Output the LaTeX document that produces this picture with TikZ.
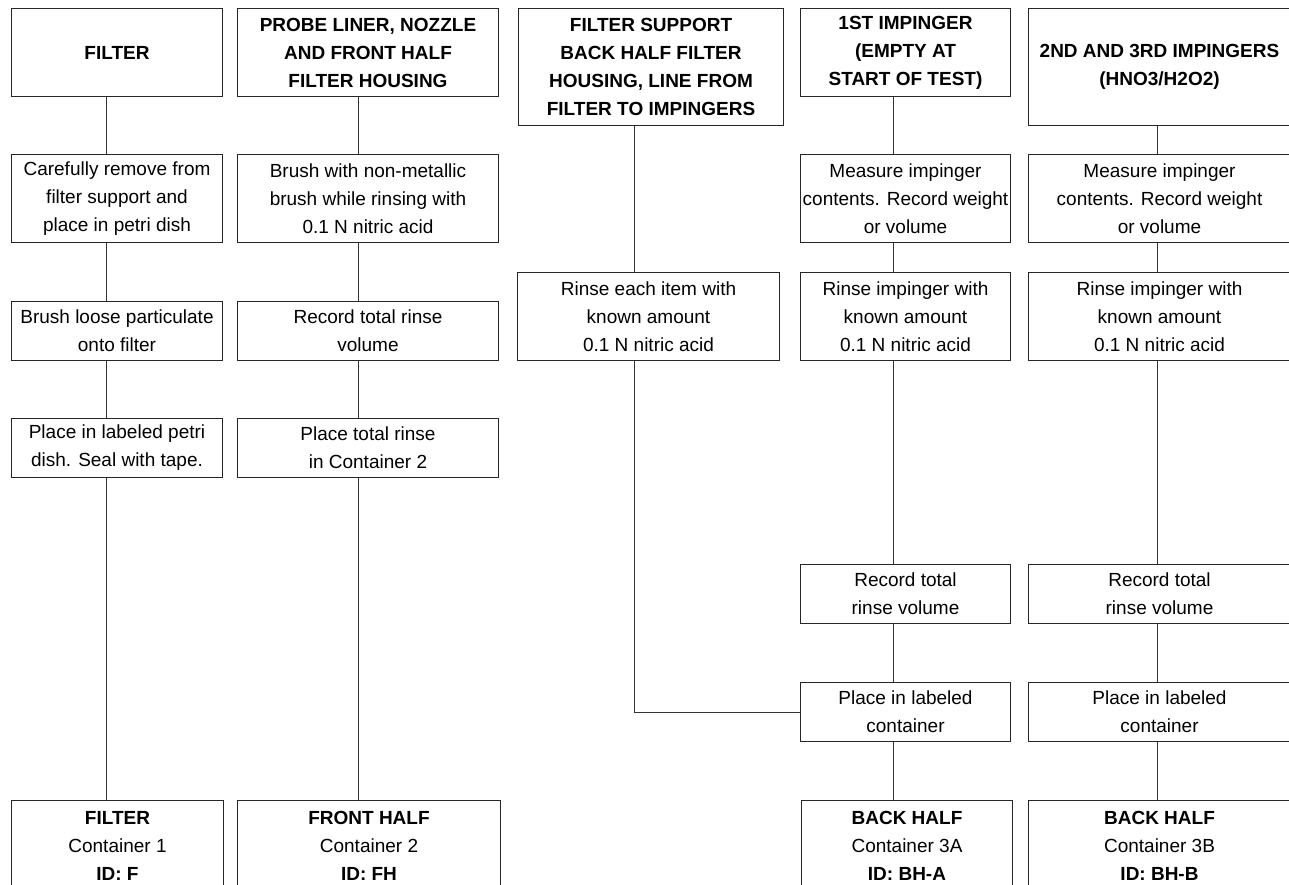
\documentclass[tikz,border=0pt]{standalone}
\usepackage{fontspec}
\setmainfont{Liberation Sans}

\begin{document}
\begin{tikzpicture}[x=1pt,y=-1pt,
    box/.style={draw=black!85, line width=1pt, inner sep=0pt, anchor=north west,
                align=center, font=\fontsize{19}{28}\selectfont},
    head/.style={box, font=\fontsize{19}{28}\selectfont\bfseries},
    narrow/.style={minimum width=211pt},
    wide/.style={minimum width=262pt},
    two/.style={minimum height=59pt},
    three/.style={minimum height=88pt},
    four/.style={minimum height=117pt},
    link/.style={draw=black!80, line width=1pt}]
\path[use as bounding box] (0,0) rectangle (1289,885);

% column lines
\coordinate (x_1) at (106,0);
\coordinate (x_2) at (358,0);
\coordinate (x_3) at (634,0);
\coordinate (x_4) at (893,0);
\coordinate (x_5) at (1157,0);

% sample fractions
\node[head, narrow, three] (h_1) at (11,8) {FILTER};
\node[head, minimum width=261pt, three] (h_2) at (237,8) {PROBE LINER, NOZZLE\\AND FRONT HALF\\FILTER HOUSING};
\node[head, minimum width=265pt, four] (h_3) at (518,8) {FILTER SUPPORT\\BACK HALF FILTER\\HOUSING, LINE FROM\\FILTER TO IMPINGERS};
\node[head, minimum width=210pt, three] (h_4) at (800,8) {1ST IMPINGER\\(EMPTY AT\\START OF TEST)};
\node[head, wide, four] (h_5) at (1028,8) {2ND AND 3RD IMPINGERS\\(HNO3/H2O2)};

% recovery steps
\node[box, narrow, three] (s_11) at (11,154) {Carefully remove from\\filter support and\\place in petri dish};
\node[box, minimum width=261pt, three] (s_21) at (237,154) {Brush with non-metallic\\brush while rinsing with\\0.1 N nitric acid};
\node[box, minimum width=210pt, three] (s_41) at (800,154) {Measure impinger\\contents. Record weight\\or volume};
\node[box, wide, three] (s_51) at (1028,154) {Measure impinger\\contents. Record weight\\or volume};

\node[box, narrow, two] (s_12) at (11,301) {Brush loose particulate\\onto filter};
\node[box, minimum width=261pt, two] (s_22) at (237,301) {Record total rinse\\volume};
\node[box, wide, three] (s_32) at (517,272) {Rinse each item with\\known amount\\0.1 N nitric acid};
\node[box, minimum width=210pt, three] (s_42) at (800,272) {Rinse impinger with\\known amount\\0.1 N nitric acid};
\node[box, wide, three] (s_52) at (1028,272) {Rinse impinger with\\known amount\\0.1 N nitric acid};

\node[box, narrow, two] (s_13) at (11,418) {Place in labeled petri\\dish. Seal with tape.};
\node[box, minimum width=261pt, two] (s_23) at (237,418) {Place total rinse\\in Container 2};

\node[box, minimum width=210pt, two] (s_44) at (800,564) {Record total\\rinse volume};
\node[box, wide, two] (s_54) at (1028,564) {Record total\\rinse volume};

\node[box, minimum width=210pt, two] (s_45) at (800,682) {Place in labeled\\container};
\node[box, wide, two] (s_55) at (1028,682) {Place in labeled\\container};

% containers
\node[box, minimum width=212pt, minimum height=90pt] (c_1) at (11,800) {\textbf{FILTER}\\Container 1\\\textbf{ID: F}};
\node[box, minimum width=263pt, minimum height=90pt] (c_2) at (237,800) {\textbf{FRONT HALF}\\Container 2\\\textbf{ID: FH}};
\node[box, minimum width=211pt, minimum height=90pt] (c_4) at (801,800) {\textbf{BACK HALF}\\Container 3A\\\textbf{ID: BH-A}};
\node[box, wide, minimum height=90pt] (c_5) at (1028,800) {\textbf{BACK HALF}\\Container 3B\\\textbf{ID: BH-B}};

\foreach \a/\b/\x in {h_1/s_11/x_1, s_11/s_12/x_1, s_12/s_13/x_1, s_13/c_1/x_1,
                      h_2/s_21/x_2, s_21/s_22/x_2, s_22/s_23/x_2, s_23/c_2/x_2,
                      h_3/s_32/x_3,
                      h_4/s_41/x_4, s_41/s_42/x_4, s_42/s_44/x_4, s_44/s_45/x_4, s_45/c_4/x_4,
                      h_5/s_51/x_5, s_51/s_52/x_5, s_52/s_54/x_5, s_54/s_55/x_5, s_55/c_5/x_5}
  \draw[link] (\a.south -| \x) -- (\b.north -| \x);
\draw[link] (s_32.south -| x_3) |- (s_45.west);
\end{tikzpicture}
\end{document}
